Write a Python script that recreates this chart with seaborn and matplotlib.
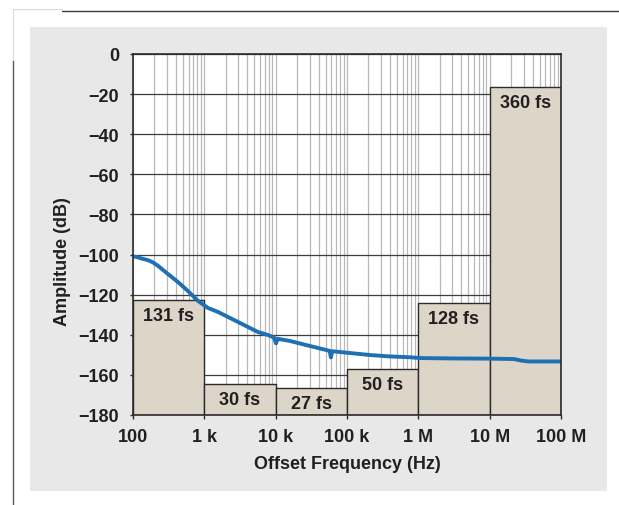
import numpy as np
import pandas as pd
import seaborn as sns
import matplotlib
matplotlib.use("Agg")
import matplotlib.pyplot as plt
from matplotlib.patches import Rectangle
from matplotlib.lines import Line2D
from matplotlib.ticker import FixedLocator, LogLocator, NullFormatter

# Phase-noise trace (offset frequency in Hz, amplitude in dB)
freq_hz = [100, 115, 130, 162, 190, 224, 309, 427, 590, 815, 1120, 1550, 2140,
           2960, 4080, 5640, 7790, 9500, 10100, 10700, 15900, 30300, 57000,
           59500, 62000, 110000, 210000, 400000, 760000, 1.05e6, 3e6, 10e6,
           22e6, 28e6, 35e6, 100e6]
amplitude_db = [-100.9, -101.3, -101.9, -102.8, -103.9, -105.6, -109.7, -113.7,
                -118.2, -123.1, -126.6, -128.6, -131.1, -133.6, -136.1, -138.6,
                -140.1, -141.4, -144.3, -142.0, -143.1, -145.6, -148.0, -151.3,
                -148.2, -149.1, -150.1, -150.8, -151.2, -151.6, -151.8, -151.9,
                -152.1, -152.9, -153.3, -153.3]

# Integrated jitter per decade band
band_edges = [1e2, 1e3, 1e4, 1e5, 1e6, 1e7, 1e8]
band_level_db = [-122.6, -164.5, -166.3, -157.3, -124.3, -16.3]
band_labels = ["131 fs", "30 fs", "27 fs", "50 fs", "128 fs", "360 fs"]

x_ticks = [1e2, 1e3, 1e4, 1e5, 1e6, 1e7, 1e8]
x_tick_labels = ["100", "1 k", "10 k", "100 k", "1 M", "10 M", "100 M"]
y_ticks = list(range(0, -181, -20))
y_tick_labels = ["0"] + ["\u2212%d" % abs(v) for v in y_ticks[1:]]

sns.set_style("white")
plt.rcParams["font.family"] = ["Liberation Sans", "DejaVu Sans"]
plt.rcParams["font.weight"] = "bold"

ink = "#231f20"
fig = plt.figure(figsize=(6.19, 5.06), dpi=100)

# page decorations and the grey panel behind the chart
W, H = 619.0, 506.0
fig.patches.append(Rectangle((30 / W, 1 - 492 / H), 577 / W, 464 / H,
                             transform=fig.transFigure, facecolor="#e8e8e8",
                             edgecolor="none", zorder=-10))
fig.lines.append(Line2D([62 / W, 1.0], [1 - 12 / H, 1 - 12 / H],
                        transform=fig.transFigure, color="#3a3a3a", lw=1.0))
fig.lines.append(Line2D([13 / W, 13 / W], [1 - 61 / H, 0.0],
                        transform=fig.transFigure, color="#5a5a5a", lw=1.0))
fig.lines.append(Line2D([13 / W, 13 / W], [1 - 61 / H, 1 - 10 / H],
                        transform=fig.transFigure, color="#dcdcdc", lw=0.8))
fig.lines.append(Line2D([13 / W, 62 / W], [1 - 10 / H, 1 - 10 / H],
                        transform=fig.transFigure, color="#dcdcdc", lw=0.8))

ax = fig.add_axes([133 / W, 1 - 416 / H, 428 / W, 361 / H])
ax.set_zorder(1)
ax.set_facecolor("white")
ax.set_xscale("log")
ax.set_xlim(1e2, 1e8)
ax.set_ylim(-180, 0)

# grid: light verticals at every log step, dark horizontals every 20 dB
ax.xaxis.set_minor_locator(LogLocator(base=10, subs=np.arange(2, 10)))
ax.xaxis.set_minor_formatter(NullFormatter())
ax.grid(which="both", axis="x", color="#b8b8b8", lw=0.9, zorder=0)
ax.grid(which="major", axis="y", color="#3c3c3c", lw=0.9, zorder=0)
ax.set_axisbelow(True)

# jitter bands
lefts = band_edges[:-1]
widths = [b - a for a, b in zip(band_edges[:-1], band_edges[1:])]
heights = [lvl + 180 for lvl in band_level_db]
ax.bar(lefts, heights, width=widths, bottom=-180, align="edge",
       color="#dcd5c8", edgecolor="#2b2b2b", lw=1.0, zorder=2)
for a, b, lvl, lab in zip(band_edges[:-1], band_edges[1:], band_level_db, band_labels):
    xc = np.sqrt(a * b)
    ax.text(xc, lvl - 3.5, lab, ha="center", va="top", fontsize=13,
            fontweight="bold", color=ink, zorder=4)

# noise trace
trace = pd.DataFrame({"freq": freq_hz, "amp": amplitude_db})
sns.lineplot(data=trace, x="freq", y="amp", ax=ax, color="#1f6fb5", lw=2.8,
             zorder=5, estimator=None, sort=False)

ax.xaxis.set_major_locator(FixedLocator(x_ticks))
ax.set_xticklabels(x_tick_labels)
ax.set_yticks(y_ticks)
ax.set_yticklabels(y_tick_labels)
ax.tick_params(axis="x", which="major", length=3, width=1.0, color="#2b2b2b",
               pad=6, labelsize=13, labelcolor=ink, bottom=True)
ax.tick_params(axis="x", which="minor", length=0)
ax.tick_params(axis="y", which="major", length=2, width=1.0, color="#2b2b2b",
               pad=8, labelsize=13, labelcolor=ink, left=True)
for lab in ax.get_xticklabels() + ax.get_yticklabels():
    lab.set_fontweight("bold")

for s in ax.spines.values():
    s.set_color("#2b2b2b")
    s.set_linewidth(1.2)
    s.set_zorder(6)

ax.set_xlabel("Offset Frequency (Hz)", fontsize=13, fontweight="bold", color=ink)
ax.set_ylabel("Amplitude (dB)", fontsize=13, fontweight="bold", color=ink)
ax.xaxis.set_label_coords(0.5, -0.11)
ax.yaxis.set_label_coords(-0.145, 0.427)

fig.savefig("out.png", dpi=100)
